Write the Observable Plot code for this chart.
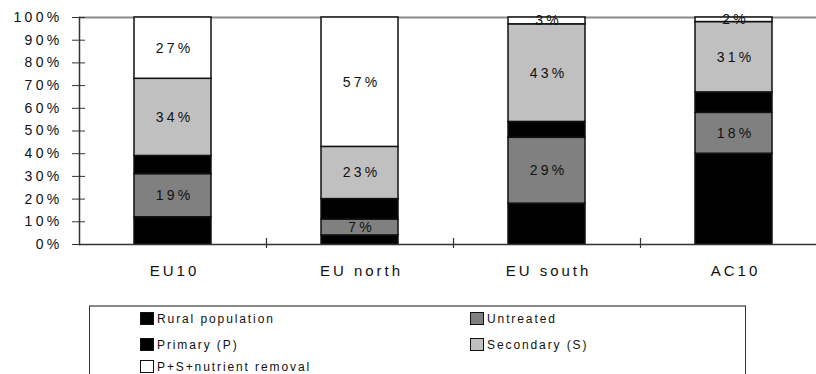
<!DOCTYPE html>
<html>
<head>
<meta charset="utf-8">
<script src="https://cdn.jsdelivr.net/npm/d3@7"></script>
<script src="https://cdn.jsdelivr.net/npm/@observablehq/plot@0.6"></script>
<style>
  html, body { margin: 0; padding: 0; background: #fff; overflow: hidden; }
  #wrap { position: relative; width: 816px; height: 374px; overflow: hidden; font-family: "Liberation Sans", Arial, sans-serif; }
  #chart svg { display: block; }
  g[aria-label="y-axis tick label"] text { letter-spacing: 3.3px; }
  g[aria-label="x-axis tick label"] text { letter-spacing: 3px; }
  g[aria-label="text"] text { letter-spacing: 3.2px; }
  #legend { position: absolute; left: 89px; top: 305px; width: 657px; height: 100px;
            border-top: 2px solid #888; border-left: 1.5px solid #333; border-right: 1.5px solid #333; box-sizing: border-box; }
  .item { position: absolute; font-size: 12px; letter-spacing: 1.9px; color: #111; white-space: nowrap; line-height: 13px; }
  .sw { display: inline-block; width: 12px; height: 11px; border: 1.5px solid #111; vertical-align: -2px; margin-right: 3px; }
</style>
</head>
<body>
<div id="wrap">
  <div id="chart"></div>
  <div id="legend"></div>
</div>
<script>
// Share of population by wastewater treatment level, per region (%)
const regions = ["EU10", "EU north", "EU south", "AC10"];
const seriesNames = ["Rural population", "Untreated", "Primary (P)", "Secondary (S)", "P+S+nutrient removal"];
const rural     = [12,  4, 18, 40];
const untreated = [19,  7, 29, 18];
const primary   = [ 8,  9,  7,  9];
const secondary = [34, 23, 43, 31];
const nutrient  = [27, 57,  3,  2];
const seriesColors = ["#000000", "#808080", "#000000", "#c0c0c0", "#ffffff"];
const labelledSeries = ["Untreated", "Secondary (S)", "P+S+nutrient removal"];
const yTicks = [0, 10, 20, 30, 40, 50, 60, 70, 80, 90, 100];

const seriesValues = [rural, untreated, primary, secondary, nutrient];
const rows = [];
seriesNames.forEach((s, si) => {
  regions.forEach((r, ri) => rows.push({region: r, series: s, value: seriesValues[si][ri]}));
});

const chart = Plot.plot({
  width: 816,
  height: 290,
  marginTop: 17,
  marginBottom: 46,
  marginLeft: 79,
  marginRight: 0,
  style: {fontFamily: "'Liberation Sans', Arial, sans-serif", background: "#fff", overflow: "hidden", color: "#111"},
  x: {domain: regions, range: [79, 827], paddingInner: 0.588, paddingOuter: 0.294, axis: null, label: null},
  y: {domain: [0, 100], axis: null, label: null},
  color: {domain: seriesNames, range: seriesColors},
  marks: [
    Plot.ruleY([100], {stroke: "#8a8a8a", strokeWidth: 2}),
    Plot.barY(rows, {x: "region", y: "value", z: "series", fill: "series", order: seriesNames,
                     stroke: "#111", strokeWidth: 1.5}),
    Plot.text(rows, Plot.stackY({
      x: "region", y: "value", z: "series", order: seriesNames,
      text: d => labelledSeries.includes(d.series) ? d.value + "%" : null,
      fontSize: 14, fill: "#111", dx: 1.6
    })),
    Plot.ruleY([0], {stroke: "#333", strokeWidth: 1.5}),
    Plot.frame({anchor: "left", stroke: "#333", strokeWidth: 1.5}),
    // category separators on the baseline
    Plot.ruleX(regions.slice(0, 3), {x: d => d, dx: 93.5, y1: 0, y2: 0, insetTop: -6, insetBottom: -4,
                                     stroke: "#333", strokeWidth: 1.2}),
    Plot.axisY({ticks: yTicks, tickSize: 13, dx: 6, tickPadding: 10, tickFormat: d => d + "%",
                fontSize: 14, stroke: "#333", label: null}),
    Plot.axisX({tickSize: 0, tickPadding: 21, fontSize: 15, dx: 1.5, label: null})
  ]
});
document.getElementById("chart").appendChild(chart);

// Legend: two columns, row-major order
const legend = document.getElementById("legend");
const colX = [50, 380];
const rowY = [5, 31, 53];
seriesNames.forEach((s, i) => {
  const item = document.createElement("div");
  item.className = "item";
  item.style.left = colX[i % 2] + "px";
  item.style.top = rowY[Math.floor(i / 2)] + "px";
  const sw = document.createElement("span");
  sw.className = "sw";
  sw.style.background = seriesColors[i];
  item.appendChild(sw);
  item.appendChild(document.createTextNode(s));
  legend.appendChild(item);
});
</script>
</body>
</html>
